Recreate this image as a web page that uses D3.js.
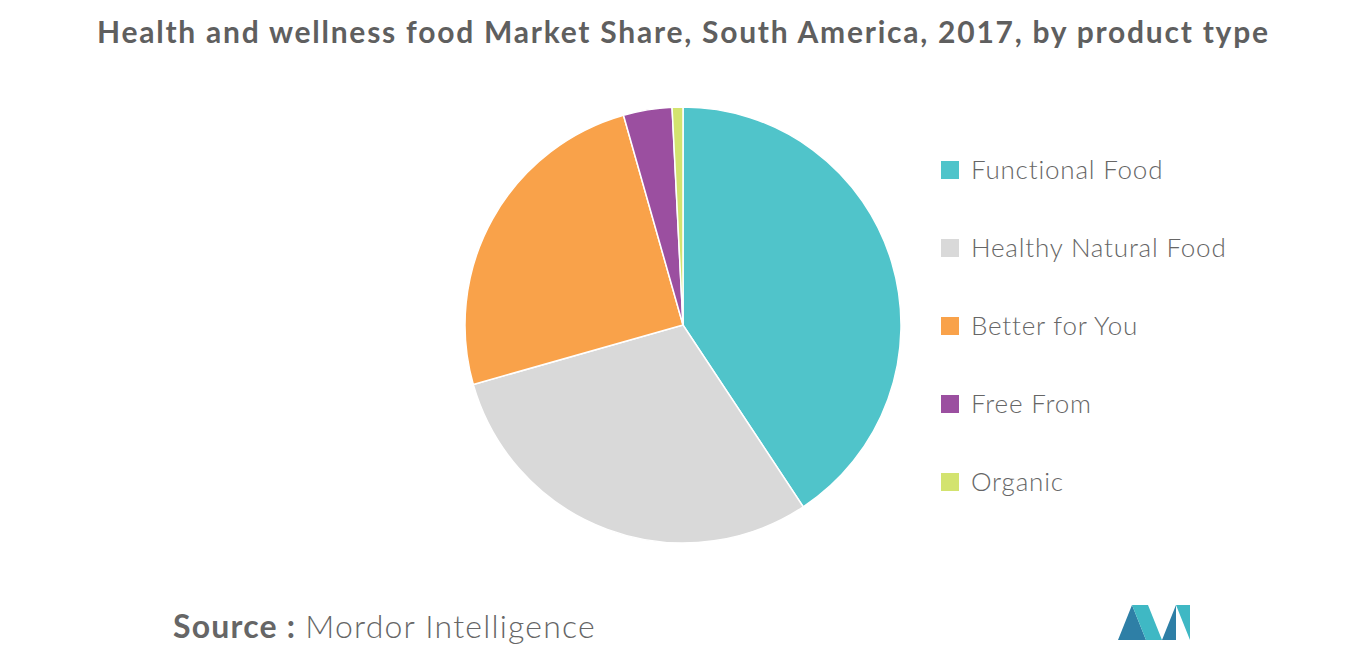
<!DOCTYPE html>
<html><head><meta charset="utf-8">
<script src="https://cdn.jsdelivr.net/npm/d3@7"></script>
<style>body{margin:0;background:#fff}text{font-family:Lato,"Open Sans",sans-serif}</style>
</head><body><svg id="c" width="1366" height="655"></svg>
<script>
const categories=["Functional Food","Healthy Natural Food","Better for You","Free From","Organic"];
const values=[40.7,29.9,25.0,3.6,0.8];
const colors=["#50C4CA","#D9D9D9","#F9A24A","#9B4FA0","#D3E36F"];
const svg=d3.select("#c");
svg.append("text").attr("x",97).attr("y",43).attr("font-size",30).attr("font-weight","bold").attr("fill","#5f5f5f")
 .attr("textLength",1171).attr("lengthAdjust","spacing").text("Health and wellness food Market Share, South America, 2017, by product type");
const pie=d3.pie().sort(null)(values);
const arc=d3.arc().innerRadius(0).outerRadius(218);
const g=svg.append("g").attr("transform","translate(683,325)");
g.selectAll("path").data(pie).join("path").attr("d",arc).attr("fill",(d,i)=>colors[i]).attr("stroke","#fff").attr("stroke-width",1.5);
const y=d3.scalePoint().domain(categories).range([170,482]);
const lg=svg.append("g");
categories.forEach((c,i)=>{
 lg.append("rect").attr("x",941).attr("y",y(c)-9).attr("width",18).attr("height",18).attr("fill",colors[i]);
 lg.append("text").attr("x",971).attr("y",y(c)+9).attr("font-size",26).attr("letter-spacing",0.8).attr("fill","#666").attr("font-weight",300).text(c);
});
const s=svg.append("text").attr("x",173).attr("y",638).attr("font-size",32).attr("letter-spacing",1.2).attr("fill","#666");
s.append("tspan").attr("font-weight","bold").text("Source : ");
s.append("tspan").attr("font-weight",300).text("Mordor Intelligence");
const L=svg.append("g").attr("transform","translate(1118,605)");
L.append("polygon").attr("points","0,35 14,0 28,35").attr("fill","#2E7FA6");
L.append("polygon").attr("points","14,0 30,0 44,35 28,35").attr("fill","#3FB8C4");
L.append("polygon").attr("points","44,35 58,0 58,35").attr("fill","#2E7FA6");
L.append("polygon").attr("points","58,0 72,0 72,35").attr("fill","#3FB8C4");
</script></body></html>
